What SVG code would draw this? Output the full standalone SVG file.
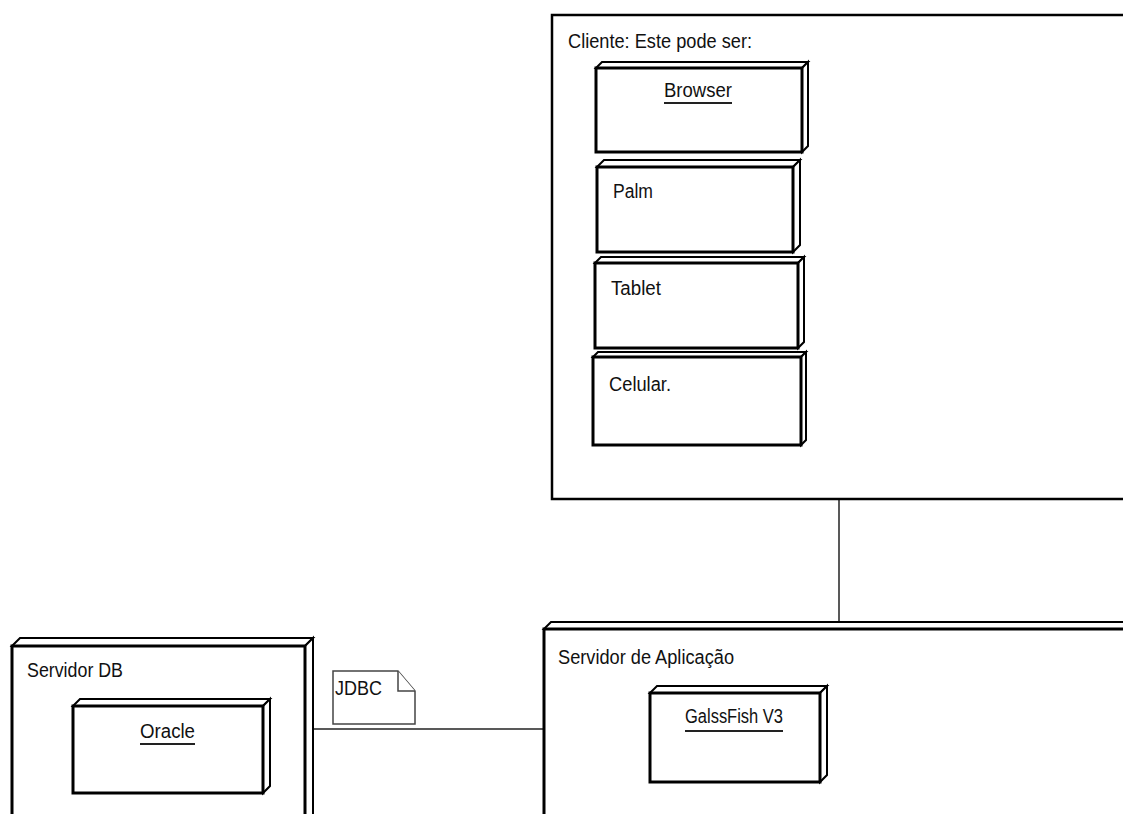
<svg xmlns="http://www.w3.org/2000/svg" width="1123" height="814" viewBox="0 0 1123 814">
  <style>
    .face { fill: #ffffff; stroke: #000; stroke-width: 2; stroke-linejoin: miter; }
    .front { fill: #ffffff; stroke: #000; stroke-width: 3; }
    .frame { fill: #ffffff; stroke: #000; stroke-width: 2.5; }
    .lbl { font-family: "Liberation Sans", Arial, sans-serif; font-size: 20px; fill: #111; }
    .mid { text-anchor: middle; }
    .ul { stroke: #222; stroke-width: 2; }
    .conn { stroke: #222; stroke-width: 1.5; fill: none; }
    .note { fill: #ffffff; stroke: #444; stroke-width: 1.5; }
  </style>
  <rect width="1123" height="814" fill="#ffffff"/>

  <g id="connectors">
    <line class="conn" x1="839" y1="499" x2="839" y2="625"/>
    <line class="conn" x1="307" y1="729" x2="544" y2="729"/>
  </g>

  <g id="cliente">
    <rect class="frame" x="552" y="15" width="600" height="484"/>
    <text class="lbl" x="568" y="48" textLength="184" lengthAdjust="spacingAndGlyphs">Cliente: Este pode ser:</text>
  </g>

  <g id="browser">
    <polygon class="face" points="596,68 602,62 808,62 802,68"/>
    <polygon class="face" points="802,68 808,62 808,146 802,152"/>
    <rect class="front" x="596" y="68" width="206" height="84"/>
    <text class="lbl" x="664" y="97" textLength="68" lengthAdjust="spacingAndGlyphs">Browser</text>
    <line class="ul" x1="664" y1="103" x2="732" y2="103"/>
  </g>

  <g id="palm">
    <polygon class="face" points="597,167 604,160 800,160 793,167"/>
    <polygon class="face" points="793,167 800,160 800,245 793,252"/>
    <rect class="front" x="597" y="167" width="196" height="85"/>
    <text class="lbl" x="613" y="198" textLength="40" lengthAdjust="spacingAndGlyphs">Palm</text>
  </g>

  <g id="tablet">
    <polygon class="face" points="595,263 601,257 804,257 798,263"/>
    <polygon class="face" points="798,263 804,257 804,342 798,348"/>
    <rect class="front" x="595" y="263" width="203" height="85"/>
    <text class="lbl" x="611" y="295" textLength="50" lengthAdjust="spacingAndGlyphs">Tablet</text>
  </g>

  <g id="celular">
    <polygon class="face" points="593,357 598,352 806,352 801,357"/>
    <polygon class="face" points="801,357 806,352 806,440 801,445"/>
    <rect class="front" x="593" y="357" width="208" height="88"/>
    <text class="lbl" x="609" y="391" textLength="62" lengthAdjust="spacingAndGlyphs">Celular.</text>
  </g>

  <g id="servidor-db">
    <polygon class="face" points="12,646 20,638 313,638 305,646"/>
    <polygon class="face" points="305,646 313,638 313,818 305,826"/>
    <rect class="front" x="12" y="646" width="293" height="180"/>
    <text class="lbl" x="27" y="677" textLength="96" lengthAdjust="spacingAndGlyphs">Servidor DB</text>
  </g>

  <g id="oracle">
    <polygon class="face" points="73,706 80,699 270,699 263,706"/>
    <polygon class="face" points="263,706 270,699 270,786 263,793"/>
    <rect class="front" x="73" y="706" width="190" height="87"/>
    <text class="lbl" x="140" y="738" textLength="55" lengthAdjust="spacingAndGlyphs">Oracle</text>
    <line class="ul" x1="140" y1="744" x2="195" y2="744"/>
  </g>

  <g id="jdbc-note">
    <path class="note" d="M333,671 L398,671 L415,691 L415,724 L333,724 Z"/>
    <path class="note" d="M398,671 L398,691 L415,691"/>
    <text class="lbl" x="335" y="695" textLength="47" lengthAdjust="spacingAndGlyphs">JDBC</text>
  </g>

  <g id="servidor-aplicacao">
    <polygon class="face" points="544,629 551,622 1151,622 1144,629"/>
    <rect class="front" x="544" y="629" width="600" height="200"/>
    <text class="lbl" x="558" y="664" textLength="176" lengthAdjust="spacingAndGlyphs">Servidor de Aplicação</text>
  </g>

  <g id="glassfish">
    <polygon class="face" points="650,693 657,686 827,686 820,693"/>
    <polygon class="face" points="820,693 827,686 827,775 820,782"/>
    <rect class="front" x="650" y="693" width="170" height="89"/>
    <text class="lbl" x="685" y="723" textLength="98" lengthAdjust="spacingAndGlyphs">GalssFish V3</text>
    <line class="ul" x1="685" y1="731" x2="783" y2="731"/>
  </g>
</svg>
